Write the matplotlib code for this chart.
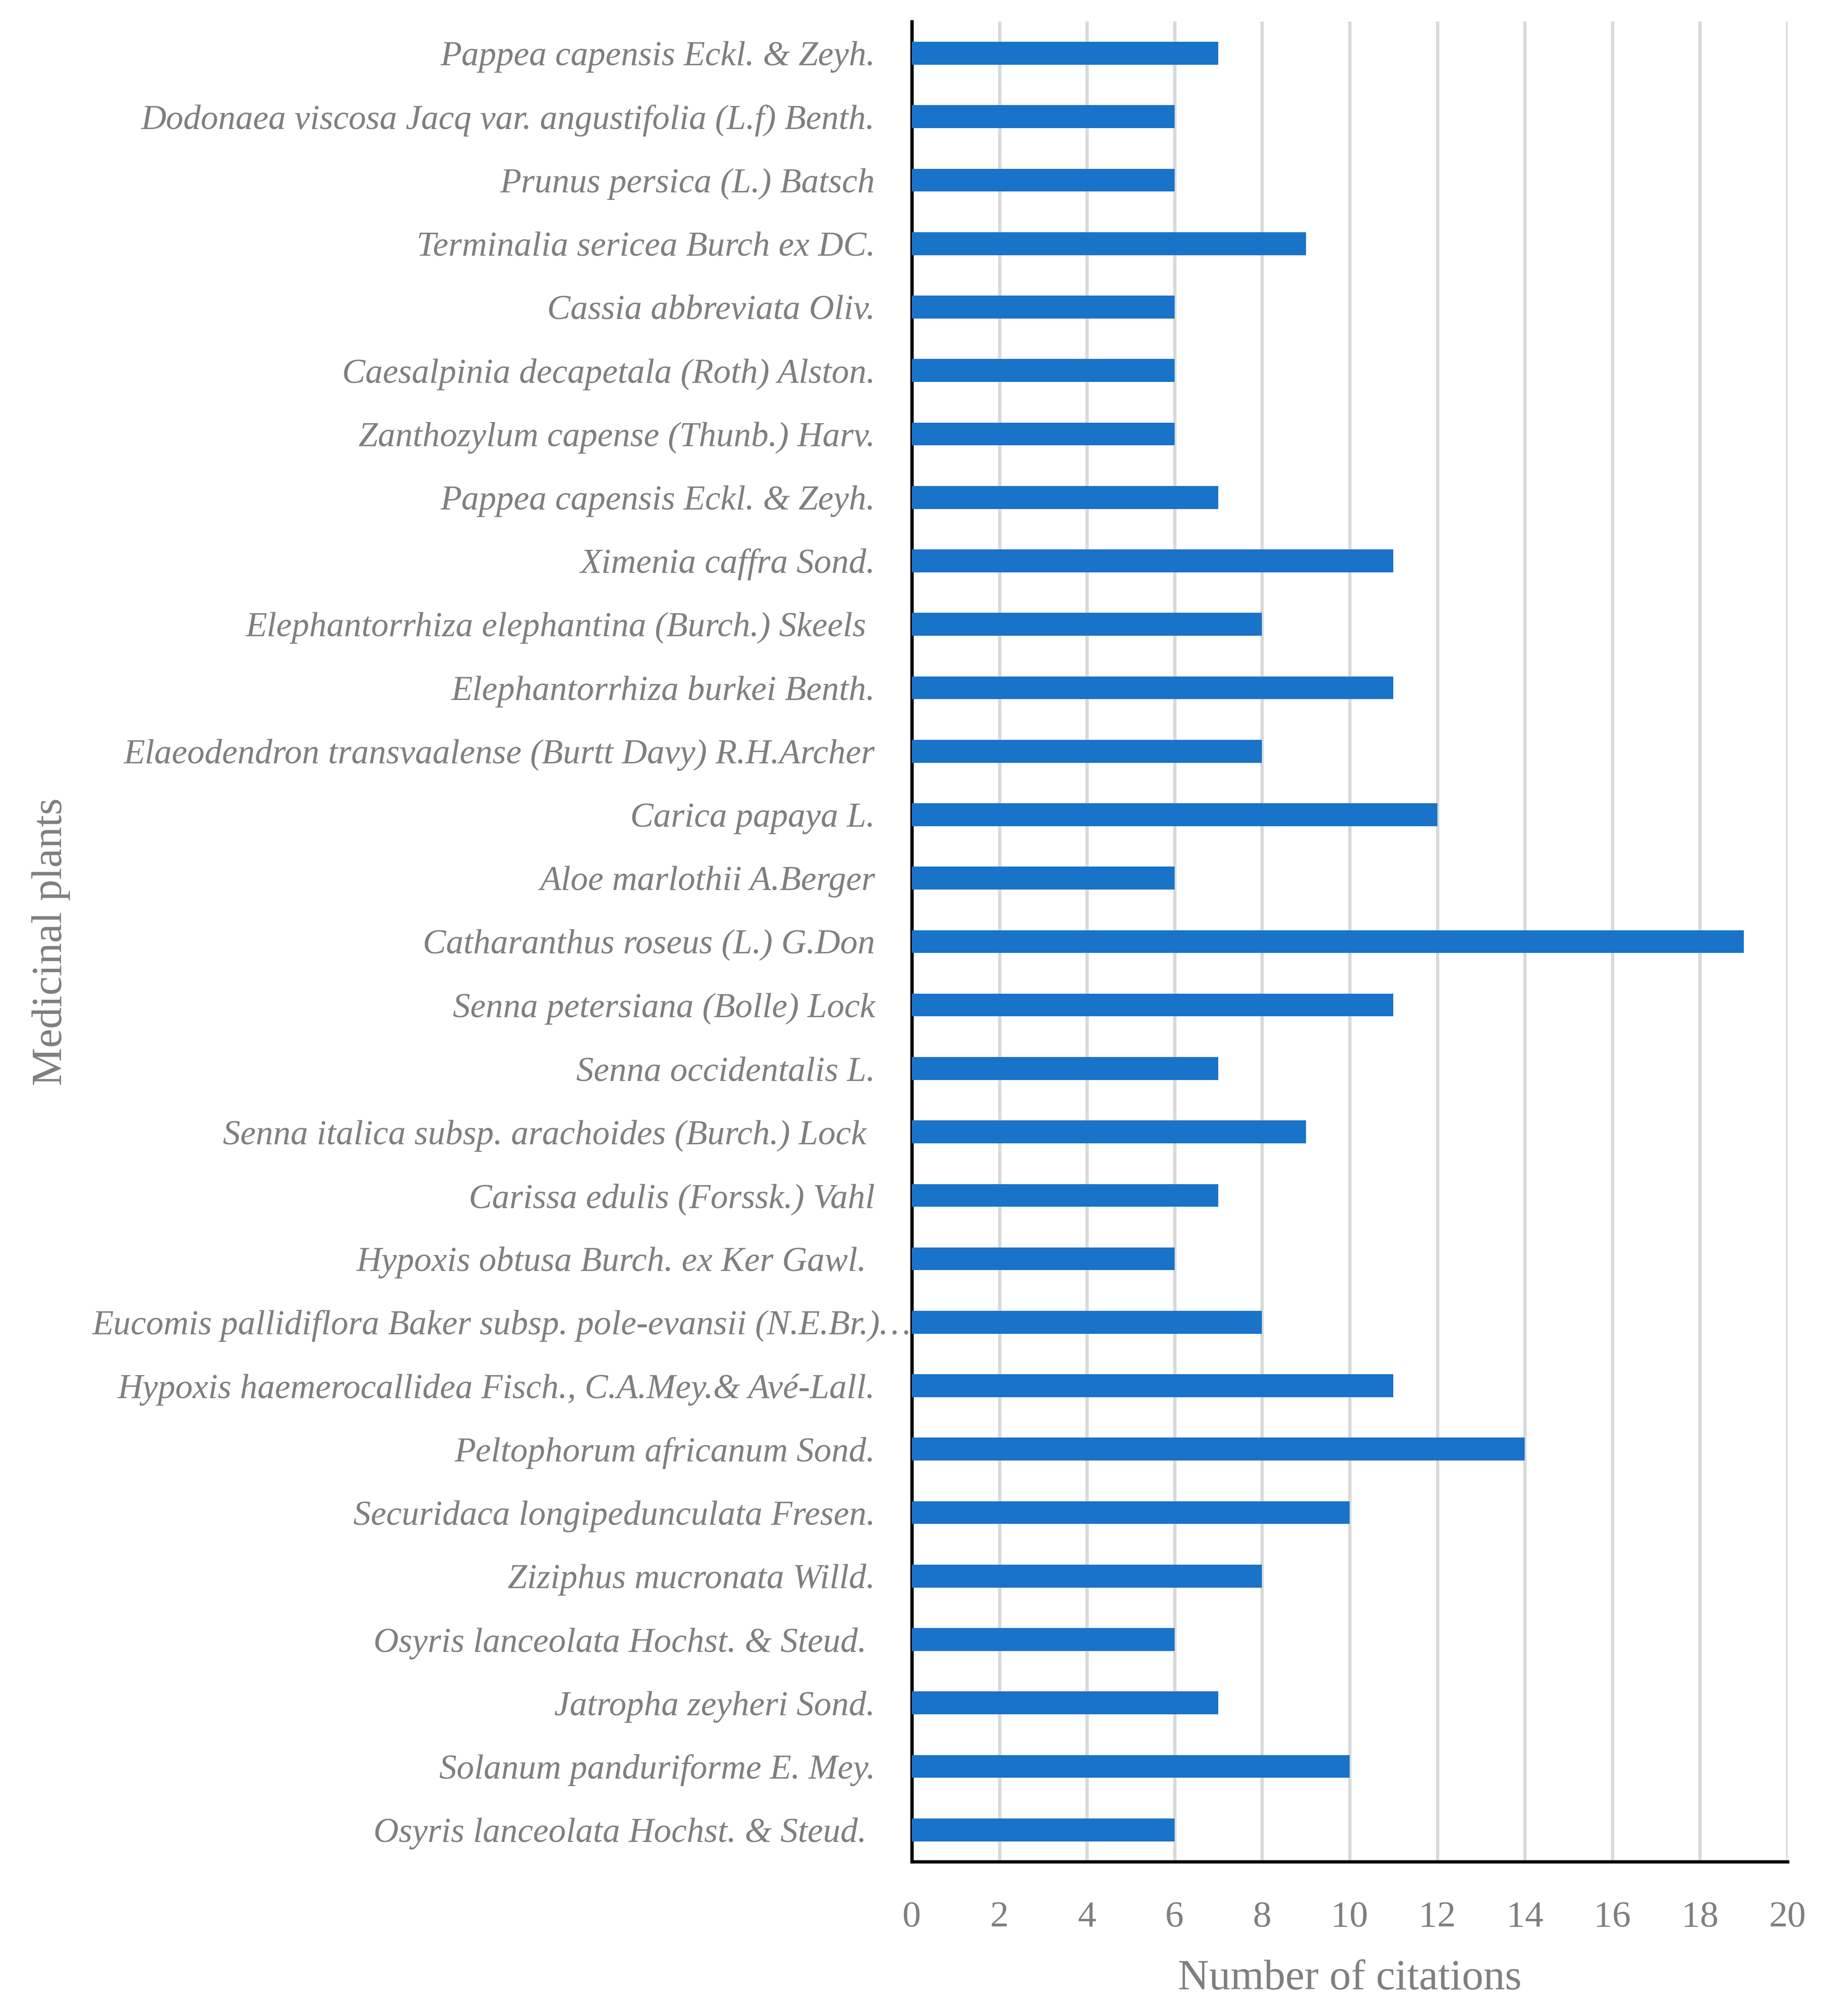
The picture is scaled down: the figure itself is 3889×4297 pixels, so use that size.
import matplotlib
matplotlib.use('Agg')
import matplotlib.pyplot as plt
from matplotlib.transforms import ScaledTranslation

# categories listed top to bottom as they appear on the chart
plants = [
    'Pappea capensis Eckl. & Zeyh.',
    'Dodonaea viscosa Jacq var. angustifolia (L.f) Benth.',
    'Prunus persica (L.) Batsch',
    'Terminalia sericea Burch ex DC.',
    'Cassia abbreviata Oliv.',
    'Caesalpinia decapetala (Roth) Alston.',
    'Zanthozylum capense (Thunb.) Harv.',
    'Pappea capensis Eckl. & Zeyh.',
    'Ximenia caffra Sond.',
    'Elephantorrhiza elephantina (Burch.) Skeels ',
    'Elephantorrhiza burkei Benth.',
    'Elaeodendron transvaalense (Burtt Davy) R.H.Archer',
    'Carica papaya L.',
    'Aloe marlothii A.Berger',
    'Catharanthus roseus (L.) G.Don',
    'Senna petersiana (Bolle) Lock',
    'Senna occidentalis L.',
    'Senna italica subsp. arachoides (Burch.) Lock ',
    'Carissa edulis (Forssk.) Vahl',
    'Hypoxis obtusa Burch. ex Ker Gawl. ',
    'Eucomis pallidiflora Baker subsp. pole-evansii (N.E.Br.)\u2026',
    'Hypoxis haemerocallidea Fisch., C.A.Mey.& Av\u00e9-Lall.',
    'Peltophorum africanum Sond.',
    'Securidaca longipedunculata Fresen.',
    'Ziziphus mucronata Willd.',
    'Osyris lanceolata Hochst. & Steud. ',
    'Jatropha zeyheri Sond.',
    'Solanum panduriforme E. Mey.',
    'Osyris lanceolata Hochst. & Steud. ',
]
citations = [7, 6, 6, 9, 6, 6, 6, 7, 11, 8, 11, 8, 12, 6, 19,
             11, 7, 9, 7, 6, 8, 11, 14, 10, 8, 6, 7, 10, 6]
xticks = [0, 2, 4, 6, 8, 10, 12, 14, 16, 18, 20]

GREY = '#7f7f7f'
plt.rcParams['font.family'] = ['Liberation Serif', 'DejaVu Serif']

fig = plt.figure(figsize=(3889 / 300, 4297 / 300), dpi=300)
ax = fig.add_axes([0.4996, 0.0766, 0.9794 - 0.4996, 0.9893 - 0.0766])

ypos = list(range(len(plants)))
ax.barh(ypos, citations, height=0.36, color='#1873c9', zorder=3)
ax.set_ylim(len(plants) - 0.5, -0.5)
ax.set_xlim(0, 20)
ax.set_xticks(xticks)
ax.set_yticks(ypos)
ax.set_yticklabels(plants, style='italic', fontsize=17.8, color=GREY)
ax.set_xticklabels([str(t) for t in xticks], fontsize=19, color=GREY)
ax.tick_params(axis='y', length=0, pad=18.8)
ax.tick_params(axis='x', length=0, pad=20)

ax.grid(axis='x', color='#d9d9d9', linewidth=1.7, zorder=0)
ax.set_axisbelow(True)
for side in ['top', 'right']:
    ax.spines[side].set_visible(False)
ax.spines['left'].set_linewidth(1.7)
ax.spines['bottom'].set_linewidth(1.7)

ax.set_xlabel('Number of citations', fontsize=22, color=GREY, labelpad=13)
ax.set_ylabel('Medicinal plants', fontsize=22, color=GREY)
ax.yaxis.set_label_coords(-0.961, 0.5)

# the long Eucomis label runs past the others up to the axis line
lab = ax.get_yticklabels()[20]
lab.set_transform(lab.get_transform() + ScaledTranslation(18.5 / 72, 0, fig.dpi_scale_trans))

fig.savefig('out.png', dpi=300, facecolor='white')
